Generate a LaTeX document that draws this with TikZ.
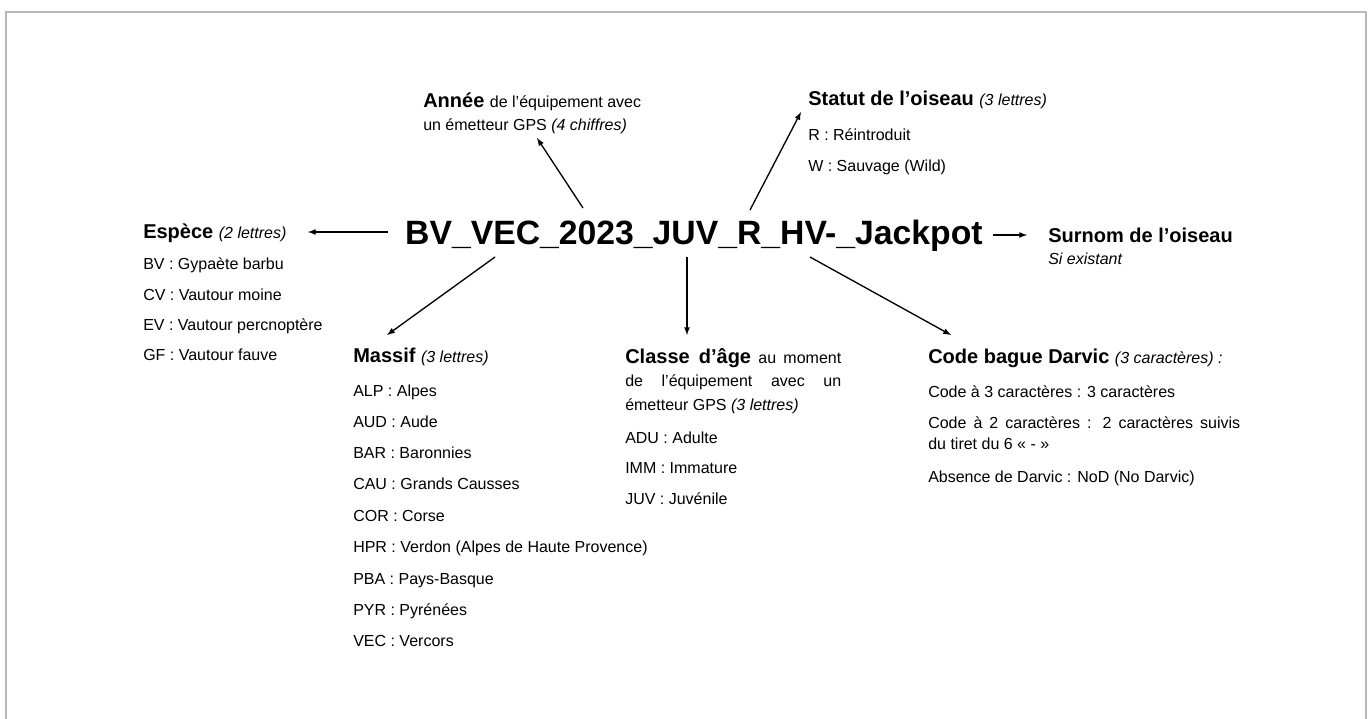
\documentclass[tikz,border=0pt]{standalone}
\usepackage{fontspec}
\setmainfont{Liberation Sans}
\newfontfamily\titlefont{Liberation Sans}

\newcommand{\bodysize}{\fontsize{12}{14}\selectfont}
\newcommand{\headsize}{\fontsize{15}{18}\selectfont}
\newcommand{\titlesize}{\fontsize{25.3}{30}\selectfont}
\newcommand{\hint}[1]{{\bodysize\mdseries\itshape #1}}
\newcommand{\plain}[1]{{\bodysize\mdseries #1}}

\tikzset{
  item/.style={anchor=base west, inner sep=0pt, font=\bodysize},
  heading/.style={anchor=base west, inner sep=0pt, font=\headsize\bfseries},
  arr/.style={-latex, line width=1pt},
}

\begin{document}
\begin{tikzpicture}[x=0.75pt, y=-0.75pt]
        \useasboundingbox (0,0) rectangle (1370,718);

        % frame
        \draw[gray!55, line width=1.5pt] (6,12) rectangle (1366,760);

        % code name
        \node[anchor=base, inner sep=0pt, font=\titlefont\titlesize\bfseries] (title) at (694,244) {BV\_VEC\_2023\_JUV\_R\_HV-\_Jackpot};

        % species
        \node[heading] (espHead) at (143,238) {Espèce \hint{(2 lettres)}};
        \node[item] (esp1) at (143,269) {BV : Gypaète barbu};
        \node[item] (esp2) at (143,300) {CV : Vautour moine};
        \node[item] (esp3) at (143,330) {EV : Vautour percnoptère};
        \node[item] (esp4) at (143,360) {GF : Vautour fauve};

        % year
        \node[heading] (yearHead) at (423,107) {Année \plain{de l’équipement avec}};
        \node[item] (year2) at (423,130) {un émetteur GPS \hint{(4 chiffres)}};

        % status
        \node[heading] (statHead) at (808,105) {Statut de l’oiseau \hint{(3 lettres)}};
        \node[item] (stat1) at (808,140) {R : Réintroduit};
        \node[item] (stat2) at (808,171) {W : Sauvage (Wild)};

        % nickname
        \node[heading] (nickHead) at (1048,242) {Surnom de l’oiseau};
        \node[item, font=\bodysize\itshape] (nick2) at (1048,264) {Si existant};

        % massif
        \node[heading] (massHead) at (353,362) {Massif \hint{(3 lettres)}};
        \node[item] (mass1) at (353,396) {ALP : Alpes};
        \node[item] (mass2) at (353,427) {AUD : Aude};
        \node[item] (mass3) at (353,458) {BAR : Baronnies};
        \node[item] (mass4) at (353,489) {CAU : Grands Causses};
        \node[item] (mass5) at (353,521) {COR : Corse};
        \node[item] (mass6) at (353,552) {HPR : Verdon (Alpes de Haute Provence)};
        \node[item] (mass7) at (353,584) {PBA : Pays-Basque};
        \node[item] (mass8) at (353,615) {PYR : Pyrénées};
        \node[item] (mass9) at (353,646) {VEC : Vercors};

        % age class
        \node[item] (ageHead) at (625,363) {\makebox[162pt][s]{{\headsize\bfseries Classe d’âge} au moment}};
        \node[item] (age2) at (625,386) {\makebox[162pt][s]{de l’équipement avec un}};
        \node[item] (age3) at (625,410) {émetteur GPS \hint{(3 lettres)}};
        \node[item] (age4) at (625,443) {ADU : Adulte};
        \node[item] (age5) at (625,473) {IMM : Immature};
        \node[item] (age6) at (625,504) {JUV : Juvénile};

        % darvic ring
        \node[heading] (ringHead) at (928,363) {Code bague Darvic \hint{(3 caractères) :}};
        \node[item] (ring1) at (928,397) {Code à 3 caractères : 3 caractères};
        \node[item] (ring2) at (928,428) {\makebox[234pt][s]{Code à 2 caractères : 2 caractères suivis}};
        \node[item] (ring3) at (928,449) {du tiret du 6 « - »};
        \node[item] (ring4) at (928,482) {Absence de Darvic : NoD (No Darvic)};

        % arrow ends
        \coordinate (espTail) at (388,232);   \coordinate (espTip) at (308,232);
        \coordinate (yearTail) at (583,208);  \coordinate (yearTip) at (537,138);
        \coordinate (statTail) at (750,210);  \coordinate (statTip) at (801,112);
        \coordinate (nickTail) at (993,235);  \coordinate (nickTip) at (1027,235);
        \coordinate (massTail) at (495,257);  \coordinate (massTip) at (387,335);
        \coordinate (ageTail) at (687,257);   \coordinate (ageTip) at (687,335);
        \coordinate (ringTail) at (810,257);  \coordinate (ringTip) at (951,335);

        % arrows
        \draw[arr] (espTail) -- (espTip);
        \draw[arr] (yearTail) -- (yearTip);
        \draw[arr] (statTail) -- (statTip);
        \draw[arr] (nickTail) -- (nickTip);
        \draw[arr] (massTail) -- (massTip);
        \draw[arr] (ageTail) -- (ageTip);
        \draw[arr] (ringTail) -- (ringTip);

\end{tikzpicture}
\end{document}
